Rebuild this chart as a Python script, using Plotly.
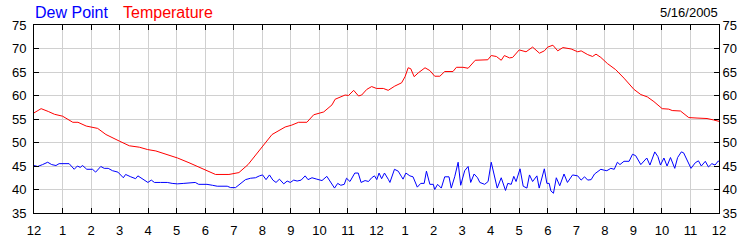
import plotly.graph_objects as go

# ---- data (hours since midnight, degrees F) ----
temp_hours = [0.0, 0.25, 0.5, 0.72, 1.0, 1.36, 1.54, 1.83, 2.23, 2.52, 2.99, 3.34, 3.69, 3.98,
              4.27, 4.62, 5.03, 5.43, 5.9, 6.36, 6.83, 7.18, 7.5, 7.76, 8.0, 8.34, 8.8, 9.03,
              9.27, 9.56, 9.8, 10.15, 10.44, 10.55, 10.9, 11.02, 11.2, 11.37, 11.48, 11.66,
              11.83, 12.0, 12.24, 12.41, 12.64, 12.88, 13.0, 13.11, 13.2, 13.32, 13.46, 13.7,
              13.87, 14.04, 14.22, 14.39, 14.68, 14.8, 15.03, 15.21, 15.46, 15.67, 15.9, 16.02,
              16.2, 16.37, 16.48, 16.66, 16.77, 17.0, 17.24, 17.47, 17.71, 17.88, 18.0, 18.18,
              18.35, 18.53, 18.82, 19.05, 19.17, 19.4, 19.57, 19.69, 19.86, 20.09, 20.38, 20.67,
              21.02, 21.26, 21.49, 21.72, 22.01, 22.24, 22.36, 22.65, 22.94, 23.23, 23.58,
              23.81, 24.0]
temp_values = [56.3, 57.2, 56.6, 56.0, 55.6, 54.3, 54.3, 53.5, 53.0, 51.7, 50.3, 49.3, 49.0, 48.5,
               48.2, 47.5, 46.7, 45.7, 44.5, 43.2, 43.2, 43.6, 45.3, 47.3, 49.2, 51.7, 53.3, 53.7,
               54.3, 54.3, 55.9, 56.5, 58.0, 59.2, 60.1, 60.0, 61.1, 59.9, 60.1, 61.3,
               61.9, 61.5, 61.5, 61.1, 62.0, 62.7, 64.0, 65.9, 65.7, 64.0, 64.8, 65.9,
               65.3, 64.1, 64.1, 65.1, 65.1, 66.0, 66.0, 65.8, 67.5, 67.5, 67.6, 68.5,
               68.3, 67.5, 68.5, 68.0, 68.1, 69.7, 69.3, 70.3, 69.0, 69.5, 70.3, 70.7,
               69.5, 70.2, 69.9, 69.3, 69.5, 68.7, 68.3, 68.8, 68.1, 66.8, 65.5, 63.7,
               61.3, 60.2, 59.7, 58.7, 57.2, 57.1, 56.8, 56.7, 55.3, 55.2, 55.1,
               54.8, 54.5]

dew_hours = [0.0, 0.13, 0.3, 0.48, 0.62, 0.77, 0.88, 1.23, 1.41, 1.52, 1.62, 1.7, 1.85, 2.05,
             2.16, 2.34, 2.46, 2.6, 2.75, 2.94, 3.13, 3.21, 3.39, 3.56, 3.64, 3.85, 3.99, 4.11,
             4.22, 4.43, 4.67, 4.84, 5.02, 5.25, 5.48, 5.65, 5.77, 6.06, 6.25, 6.42, 6.77, 6.89,
             7.06, 7.24, 7.41, 7.59, 7.76, 7.9, 8.01, 8.13, 8.25, 8.37, 8.48, 8.6, 8.75, 8.87,
             8.98, 9.1, 9.22, 9.36, 9.5, 9.6, 9.74, 9.91, 10.09, 10.26, 10.37, 10.53, 10.64,
             10.75, 10.87, 10.95, 11.07, 11.24, 11.36, 11.46, 11.6, 11.72, 11.83, 11.93, 12.01,
             12.09, 12.18, 12.28, 12.42, 12.47, 12.63, 12.76, 12.88, 12.93, 13.03, 13.17, 13.28,
             13.43, 13.55, 13.67, 13.75, 13.87, 13.99, 14.04, 14.14, 14.27, 14.39, 14.54, 14.62,
             14.74, 14.86, 14.95, 15.09, 15.21, 15.3, 15.42, 15.54, 15.62, 15.79, 15.91, 16.02,
             16.12, 16.23, 16.37, 16.52, 16.6, 16.72, 16.81, 16.89, 17.03, 17.14, 17.27, 17.36,
             17.47, 17.62, 17.7, 17.88, 17.97, 18.05, 18.11, 18.2, 18.3, 18.42, 18.57, 18.69,
             18.87, 19.05, 19.17, 19.29, 19.4, 19.52, 19.64, 19.73, 19.86, 19.98, 20.07, 20.21,
             20.33, 20.44, 20.53, 20.67, 20.85, 20.97, 21.08, 21.26, 21.37, 21.47, 21.58, 21.75,
             21.86, 21.95, 22.07, 22.18, 22.3, 22.45, 22.55, 22.68, 22.76, 22.88, 23.02, 23.17,
             23.28, 23.38, 23.52, 23.63, 23.75, 23.86, 23.98, 24.0]
dew_values = [45.1, 44.9, 45.3, 45.8, 45.3, 45.1, 45.5, 45.5, 44.3, 45.0, 44.7, 45.1, 44.3, 44.3,
              43.7, 44.9, 44.5, 44.5, 44.0, 43.7, 42.5, 43.2, 42.7, 42.3, 42.9, 42.1, 41.5, 42.0,
              41.5, 41.5, 41.5, 41.3, 41.2, 41.3, 41.5, 41.5, 41.1, 41.1, 40.9, 40.7, 40.7, 40.4,
              40.4, 41.3, 42.1, 42.4, 42.5, 42.9, 43.1, 42.1, 43.1, 42.0, 41.5, 42.2, 41.2, 41.8,
              41.5, 42.0, 41.8, 42.0, 42.9, 42.1, 42.5, 42.2, 41.9, 42.8, 41.7, 40.3, 41.3,
              40.9, 41.1, 42.4, 41.7, 43.5, 43.5, 41.5, 41.9, 41.7, 42.5, 42.9, 42.1,
              43.5, 42.3, 43.5, 42.1, 41.5, 44.3, 43.9, 42.7, 42.2, 43.5, 42.9, 42.7,
              40.5, 41.3, 41.3, 43.9, 41.1, 41.1, 40.0, 41.1, 40.3, 42.7, 42.7, 40.3,
              42.7, 45.8, 40.9, 44.0, 44.9, 41.5, 43.3, 42.5, 41.5, 41.1, 41.7, 45.8,
              43.1, 40.3, 42.5, 39.8, 41.3, 41.1, 42.8, 41.7, 44.4, 40.7, 40.3, 43.1,
              41.7, 42.9, 40.3, 44.4, 41.3, 41.3, 39.7, 39.2, 42.5, 40.8, 43.3, 41.5,
              43.1, 42.9, 42.0, 42.7, 42.0, 42.1, 43.3, 43.7, 44.3, 44.1, 44.0, 44.5,
              44.3, 45.8, 45.3, 46.0, 46.0, 47.5, 47.2, 45.3, 46.0, 46.7, 45.2, 48.0,
              47.0, 45.2, 46.7, 45.0, 46.8, 44.5, 46.8, 48.0, 47.8, 46.1, 44.5, 45.7,
              46.1, 45.0, 46.0, 44.8, 45.5, 45.2, 46.1, 45.9]

hour_ticks = list(range(25))
hour_labels = ["12", "1", "2", "3", "4", "5", "6", "7", "8", "9", "10", "11",
               "12", "1", "2", "3", "4", "5", "6", "7", "8", "9", "10", "11", "12"]
date_label = "5/16/2005"

FONT = "Arial, Liberation Sans, sans-serif"
W, H = 750, 250
ML, MR, MT, MB = 31, 31, 25, 25
PW, PH = W - ML - MR, H - MT - MB

fig = go.Figure()
fig.add_trace(go.Scatter(x=dew_hours, y=dew_values, mode="lines",
                         line=dict(color="#0000ff", width=1), name="Dew Point",
                         yaxis="y", hoverinfo="skip"))
fig.add_trace(go.Scatter(x=temp_hours, y=temp_values, mode="lines",
                         line=dict(color="#ff0000", width=1), name="Temperature",
                         yaxis="y2", hoverinfo="skip"))

common_y = dict(range=[35, 75], dtick=5, tick0=35, ticks="inside", ticklen=5,
                tickcolor="black", showline=True, linecolor="black", linewidth=1,
                tickfont=dict(family=FONT, size=13, color="black"), zeroline=False,
                fixedrange=True)

fig.update_layout(
    width=W, height=H,
    margin=dict(l=ML, r=MR, t=MT, b=MB, pad=0),
    paper_bgcolor="white", plot_bgcolor="white",
    showlegend=False,
    font=dict(family=FONT, size=13, color="black"),
    xaxis=dict(range=[0, 24], tickvals=hour_ticks, ticktext=hour_labels,
               ticks="inside", ticklen=5, tickcolor="black", ticklabelstandoff=5,
               showline=True, linecolor="black", linewidth=1, mirror="ticks",
               showgrid=True, gridcolor="#d0d0d0", gridwidth=1, zeroline=False,
               tickfont=dict(family=FONT, size=13, color="black")),
    yaxis=dict(side="left", showgrid=True, gridcolor="#d0d0d0", gridwidth=1, mirror=True,
               ticklabelstandoff=4, **common_y),
    yaxis2=dict(side="right", overlaying="y", showgrid=False, **common_y),
    annotations=[
        dict(text="Dew Point", xref="paper", yref="paper",
             x=(30 - ML) / PW, y=1 + (MT - 12) / PH, xanchor="left", yanchor="middle",
             showarrow=False, font=dict(family=FONT, size=16, color="#0000ff")),
        dict(text="Temperature", xref="paper", yref="paper",
             x=(118 - ML) / PW, y=1 + (MT - 12) / PH, xanchor="left", yanchor="middle",
             showarrow=False, font=dict(family=FONT, size=16, color="#ff0000")),
        dict(text=date_label, xref="paper", yref="paper",
             x=(720 - ML) / PW, y=1 + (MT - 12) / PH, xanchor="right", yanchor="middle",
             showarrow=False, font=dict(family=FONT, size=13, color="black")),
    ],
)

fig.write_html("out.html")
